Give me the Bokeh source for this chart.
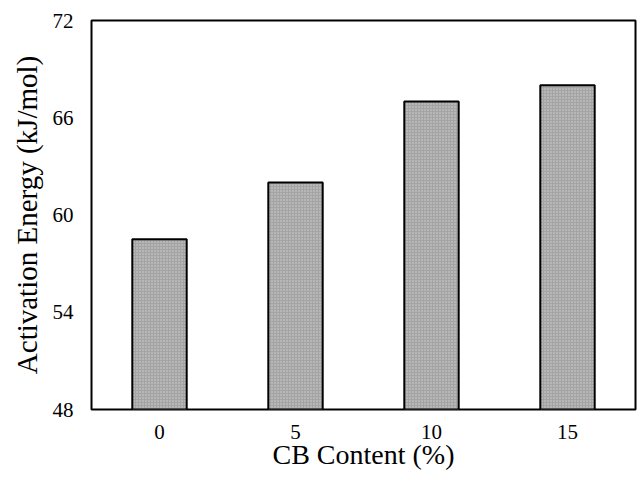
from bokeh.plotting import figure
from bokeh.models import FactorRange, Range1d, FixedTicker, ColumnDataSource
from bokeh.embed import file_html
from bokeh.resources import INLINE

categories = ["0", "5", "10", "15"]
energy = [58.5, 62.0, 67.0, 68.0]
y_ticks = [48, 54, 60, 66, 72]

source = ColumnDataSource(data=dict(cat=categories, val=energy))

p = figure(x_range=FactorRange(*categories, range_padding=0),
           y_range=Range1d(48, 72),
           width=637, height=477,
           output_backend="svg", toolbar_location=None,
           min_border_left=91, min_border_top=20,
           min_border_right=2, min_border_bottom=68)

p.vbar(x="cat", top="val", bottom=48, width=0.4, source=source,
       fill_color="#a4a4a4", line_color="black", line_width=2,
       hatch_pattern="dot", hatch_color="#d4d4d4", hatch_scale=3, hatch_weight=1)

p.xgrid.visible = False
p.ygrid.visible = False
p.outline_line_color = "black"
p.outline_line_width = 2
p.outline_line_alpha = 1

font = "Liberation Serif"
for ax in (p.xaxis[0], p.yaxis[0]):
    ax.axis_line_color = None
    ax.major_tick_line_color = None
    ax.minor_tick_line_color = None
    ax.major_tick_in = 0
    ax.major_tick_out = 0
    ax.minor_tick_in = 0
    ax.minor_tick_out = 0
    ax.major_label_text_font = font
    ax.major_label_text_font_size = "21px"
    ax.major_label_text_color = "black"
    ax.axis_label_text_font = font
    ax.axis_label_text_font_style = "normal"
    ax.axis_label_text_color = "black"

p.xaxis.axis_label_text_font_size = "28px"
p.yaxis.axis_label_text_font_size = "29px"
p.yaxis.ticker = FixedTicker(ticks=y_ticks)
p.xaxis.axis_label = "CB Content (%)"
p.yaxis.axis_label = "Activation Energy (kJ/mol)"
p.xaxis.major_label_standoff = 15
p.xaxis.axis_label_standoff = -3
p.yaxis.major_label_standoff = 18
p.yaxis.axis_label_standoff = 7

open("out.html", "w").write(file_html(p, INLINE))
